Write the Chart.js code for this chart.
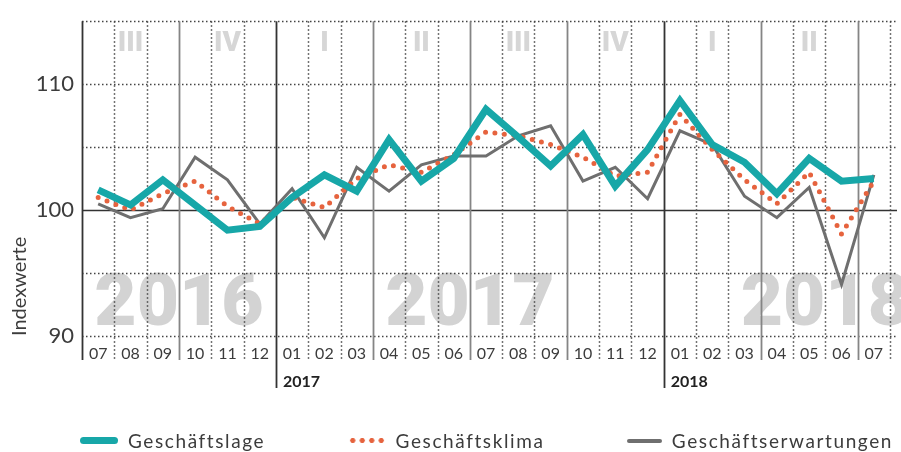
<!DOCTYPE html>
<html>
<head>
<meta charset="utf-8">
<script src="https://cdn.jsdelivr.net/npm/chart.js@4.4.1/dist/chart.umd.min.js"></script>
<style>
  body { margin: 0; background: #fff; }
  #wrap { position: relative; width: 901px; height: 452px; }
  #legend {
    position: absolute; left: 80px; width: 813px; top: 429px;
    display: flex; justify-content: space-between; align-items: center;
    font-family: Lato, sans-serif; font-size: 19px; letter-spacing: 1.6px; color: #3c3c3c;
  }
  .item { display: flex; align-items: center; }
  .swatch { margin-right: 10px; }
</style>
</head>
<body>
<div id="wrap">
  <canvas id="chart" width="901" height="452"></canvas>
  <div id="legend"></div>
</div>
<script>
// months 07/2016 .. 07/2018
const months = ['07', '08', '09', '10', '11', '12', '01', '02', '03', '04', '05', '06',
  '07', '08', '09', '10', '11', '12', '01', '02', '03', '04', '05', '06', '07']
const quarters = ['III', 'IV', 'I', 'II', 'III', 'IV', 'I', 'II']
const quarterMonth = [1, 4, 7, 10, 13, 16, 19, 22] // middle month of each quarter
const bigYears = ['2016', '2017', '2018']
const bigYearAt = [3, 12, 23] // column boundary under the big year
const yearStarts = ['2017', '2018']
const yearStartAt = [6, 18]
const yTickLabels = [90, 100, 110]

const lage = [101.6, 100.4, 102.4, 100.4, 98.4, 98.7, 101.0, 102.8, 101.5, 105.6, 102.3, 104.1,
  108.0, 105.8, 103.5, 106.0, 101.9, 104.8, 108.7, 105.2, 103.8, 101.3, 104.1, 102.3, 102.5]
const klima = [101.0, 100.0, 101.3, 102.3, 100.3, 98.9, 101.0, 100.2, 102.5, 103.6, 103.0, 104.4,
  106.2, 105.9, 105.2, 104.2, 102.7, 103.0, 107.6, 104.8, 102.4, 100.5, 103.0, 98.1, 102.3]
const erwartungen = [100.5, 99.4, 100.1, 104.2, 102.4, 98.9, 101.7, 97.8, 103.4, 101.5, 103.6, 104.3,
  104.3, 105.9, 106.7, 102.3, 103.4, 100.9, 106.3, 105.2, 101.1, 99.4, 101.8, 94.1, 102.8]

const textColor = '#3c3c3c'

// grid, quarter labels and the big year numbers behind the lines
const backdrop = {
  id: 'backdrop',
  beforeDatasetsDraw (chart) {
    const { ctx, chartArea: area, scales: { x, y } } = chart
    const colW = x.getPixelForValue(1) - x.getPixelForValue(0)
    const edge = (k) => x.getPixelForValue(k) - colW / 2

    ctx.save()

    // big years
    ctx.fillStyle = '#d3d3d3'
    ctx.font = '900 73px Roboto'
    ctx.textAlign = 'center'
    ctx.textBaseline = 'alphabetic'
    bigYears.forEach((t, i) => ctx.fillText(t, edge(bigYearAt[i]), y.getPixelForValue(91) + 2))

    // quarters
    ctx.fillStyle = '#d6d6d6'
    ctx.font = '900 28px Roboto'
    quarters.forEach((q, i) => ctx.fillText(q, x.getPixelForValue(quarterMonth[i]), area.top + 30))

    // horizontal lines
    for (let v = y.min; v <= y.max; v += 5) {
      const py = Math.round(y.getPixelForValue(v)) + 0.5
      ctx.beginPath()
      if (v === 100) {
        ctx.setLineDash([])
        ctx.strokeStyle = '#333'
        ctx.lineWidth = 1.6
      } else {
        ctx.setLineDash([1.5, 2.5])
        ctx.strokeStyle = '#444'
        ctx.lineWidth = 1.5
      }
      ctx.moveTo(area.left, py)
      ctx.lineTo(area.right + 7, py)
      ctx.stroke()
    }

    // vertical lines
    for (let k = 0; k <= months.length; k++) {
      const px = Math.round(edge(k)) + 0.5
      let bottom = area.bottom + 24
      ctx.beginPath()
      if (k === 0 || yearStartAt.includes(k)) {
        ctx.setLineDash([])
        ctx.strokeStyle = '#333'
        ctx.lineWidth = 1.8
        if (k > 0) bottom = area.bottom + 52
      } else if (k % 3 === 0 && k < months.length) {
        ctx.setLineDash([])
        ctx.strokeStyle = '#858585'
        ctx.lineWidth = 1.8
      } else {
        ctx.setLineDash([1.5, 2.5])
        ctx.strokeStyle = '#444'
        ctx.lineWidth = 1.5
      }
      ctx.moveTo(px, area.top)
      ctx.lineTo(px, bottom)
      ctx.stroke()
    }

    // year under the axis
    ctx.setLineDash([])
    ctx.fillStyle = '#222'
    ctx.font = 'bold 16px Lato'
    ctx.textAlign = 'left'
    yearStarts.forEach((t, i) => ctx.fillText(t, edge(yearStartAt[i]) + 7, area.bottom + 51))

    ctx.restore()
  }
}

const chart = new Chart(document.getElementById('chart'), {
  type: 'line',
  data: {
    labels: months,
    datasets: [
      {
        label: 'Geschäftslage',
        data: lage,
        borderColor: '#17a7a8',
        borderWidth: 7,
        pointRadius: 0
      },
      {
        label: 'Geschäftsklima',
        data: klima,
        borderColor: '#e6633e',
        borderWidth: 5,
        borderDash: [0, 9.5],
        borderCapStyle: 'round',
        pointRadius: 0
      },
      {
        label: 'Geschäftserwartungen',
        data: erwartungen,
        borderColor: '#6f6f6f',
        borderWidth: 3,
        pointRadius: 0
      }
    ]
  },
  options: {
    responsive: false,
    animation: false,
    layout: { padding: { top: 16, right: 11, left: 0, bottom: 0 } },
    plugins: {
      legend: { display: false },
      tooltip: { enabled: false }
    },
    scales: {
      x: {
        offset: true,
        grid: { display: false, drawTicks: false },
        border: { display: false },
        ticks: {
          color: textColor,
          font: { family: 'Lato', size: 16 },
          padding: 8,
          maxRotation: 0,
          autoSkip: false
        },
        afterFit: (scale) => { scale.height = 116 }
      },
      y: {
        min: 90,
        max: 115,
        grid: { display: false, drawTicks: false },
        border: { display: false },
        ticks: {
          stepSize: 10,
          color: textColor,
          font: { family: 'Lato', size: 22 },
          padding: 8,
          callback: (v) => yTickLabels.includes(v) ? v : ''
        },
        title: {
          display: true,
          text: 'Indexwerte',
          align: 'start',
          color: textColor,
          font: { family: 'Lato', size: 20 },
          padding: { top: 8, bottom: 0 }
        },
        afterFit: (scale) => { scale.width = 82 }
      }
    }
  },
  plugins: [backdrop]
})

// html legend below the chart
const legendEl = document.getElementById('legend')
chart.data.datasets.forEach((ds) => {
  const item = document.createElement('div')
  item.className = 'item'
  const sw = document.createElement('span')
  sw.className = 'swatch'
  sw.style.display = 'inline-block'
  if (ds.borderDash) {
    sw.style.width = '38px'
    sw.style.height = ds.borderWidth + 'px'
    sw.style.background = `radial-gradient(circle, ${ds.borderColor} 2.3px, transparent 2.8px) 0 0 / 9.5px ${ds.borderWidth}px repeat-x`
  } else {
    sw.style.width = (ds.borderWidth > 5 ? 38 : 35) + 'px'
    sw.style.height = (ds.borderWidth > 5 ? 7 : 4) + 'px'
    sw.style.borderRadius = '4px'
    sw.style.background = ds.borderColor
  }
  const txt = document.createElement('span')
  txt.textContent = ds.label
  item.appendChild(sw)
  item.appendChild(txt)
  legendEl.appendChild(item)
})
</script>
</body>
</html>
